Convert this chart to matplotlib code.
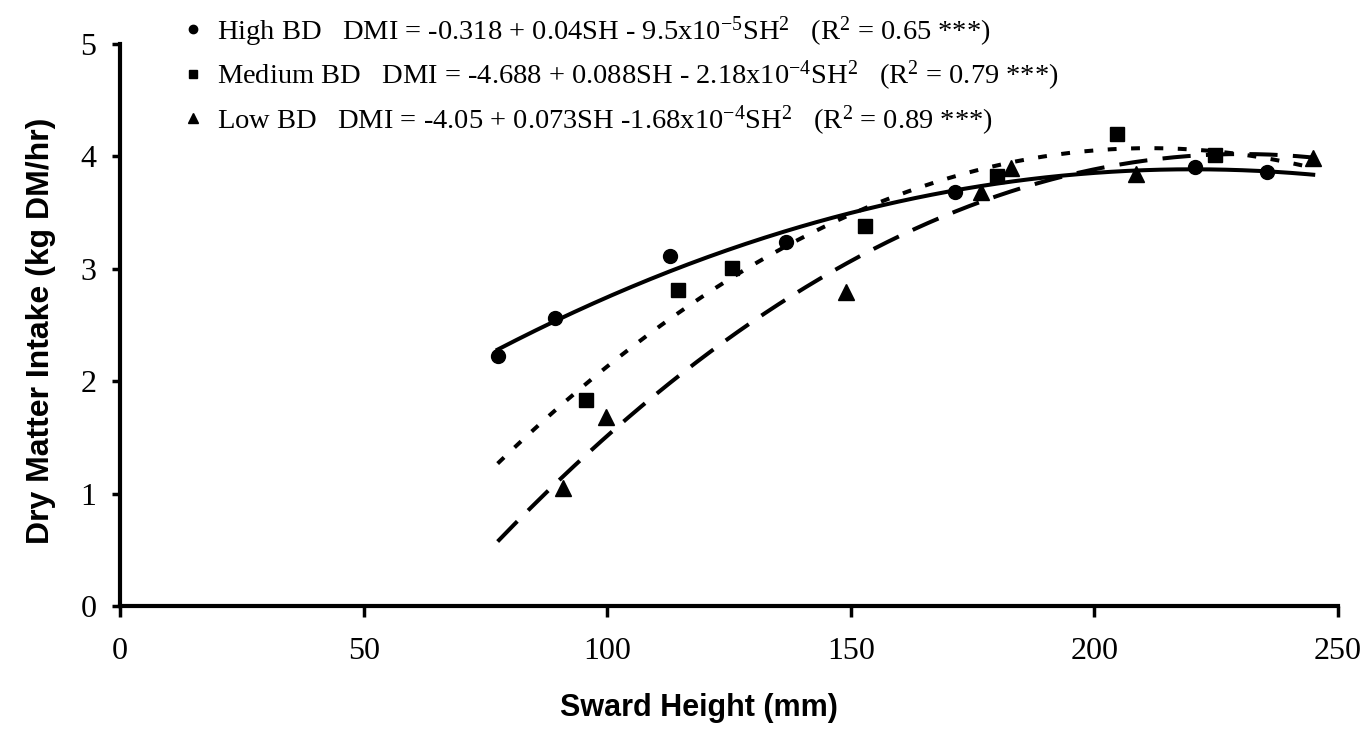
import numpy as np
import matplotlib.pyplot as plt

plt.rcParams['font.family'] = 'Liberation Serif'
plt.rcParams['mathtext.fontset'] = 'custom'
plt.rcParams['mathtext.rm'] = 'Liberation Serif'
plt.rcParams['mathtext.it'] = 'Liberation Serif:italic'

# data (sward height mm, dry matter intake kg DM/hr)
high_x = [77.5, 89.2, 112.9, 136.7, 171.3, 220.6, 235.4]
high_y = [2.22, 2.56, 3.11, 3.24, 3.68, 3.91, 3.86]
med_x = [95.6, 114.5, 125.6, 152.8, 179.9, 204.6, 224.7]
med_y = [1.83, 2.81, 3.01, 3.38, 3.83, 4.20, 4.01]
low_x = [90.9, 99.7, 149.1, 176.8, 182.8, 208.5, 244.9]
low_y = [1.05, 1.68, 2.79, 3.68, 3.90, 3.84, 3.99]

labels = [
    'High BD   DMI = -0.318 + 0.04SH - 9.5x10$^{-5}$SH$^{2}$   (R$^{2}$ = 0.65 ***)',
    'Medium BD   DMI = -4.688 + 0.088SH - 2.18x10$^{-4}$SH$^{2}$   (R$^{2}$ = 0.79 ***)',
    'Low BD   DMI = -4.05 + 0.073SH -1.68x10$^{-4}$SH$^{2}$   (R$^{2}$ = 0.89 ***)',
]

fig = plt.figure(figsize=(13.69, 7.29), dpi=100)
ax = fig.add_axes([0.0877, 0.1687, 0.8897, 0.7709])

# second order trendlines over the common sward height range
sh = np.linspace(min(high_x), max(low_x), 300)
styles = [
    dict(linestyle='-'),
    dict(linestyle=(0, (2.2, 3.6))),
    dict(linestyle=(0, (7.0, 3.8))),
]
series = [(high_x, high_y, 'o', 10), (med_x, med_y, 's', 10), (low_x, low_y, '^', 11)]
for (xs, ys, mk, ms), st, lab in zip(series, styles, labels):
    coef = np.polyfit(xs, ys, 2)
    ax.plot(sh, np.polyval(coef, sh), color='black', lw=2.9,
            dash_capstyle='butt', **st)
    ax.plot(xs, ys, mk, color='black', ms=ms, label=lab)

ax.set_xlim(0, 250)
ax.set_ylim(0, 5)
ax.set_xticks([0, 50, 100, 150, 200, 250])
ax.set_yticks([0, 1, 2, 3, 4, 5])
for s in ['top', 'right']:
    ax.spines[s].set_visible(False)
for s in ['left', 'bottom']:
    ax.spines[s].set_linewidth(3)
ax.tick_params(axis='x', direction='out', length=8, width=2.5, pad=14, labelsize=23)
ax.tick_params(axis='y', direction='out', length=6, width=2.5, pad=11, labelsize=23)

ax.set_xlabel('Sward Height (mm)', family='Liberation Sans', weight='bold', fontsize=22)
ax.xaxis.set_label_coords(0.475, -0.155)
ax.set_ylabel('Dry Matter Intake (kg DM/hr)', family='Liberation Sans', weight='bold',
              fontsize=23)
ax.yaxis.set_label_coords(-0.053, 0.49)

ax.legend(loc='upper left', bbox_to_anchor=(0.118, 1.008), bbox_transform=fig.transFigure,
          frameon=False, fontsize=20.5, markerscale=0.6, handlelength=0.8,
          handletextpad=0.45, labelspacing=0.36, borderaxespad=0.3)

fig.savefig('out.png', dpi=100)
